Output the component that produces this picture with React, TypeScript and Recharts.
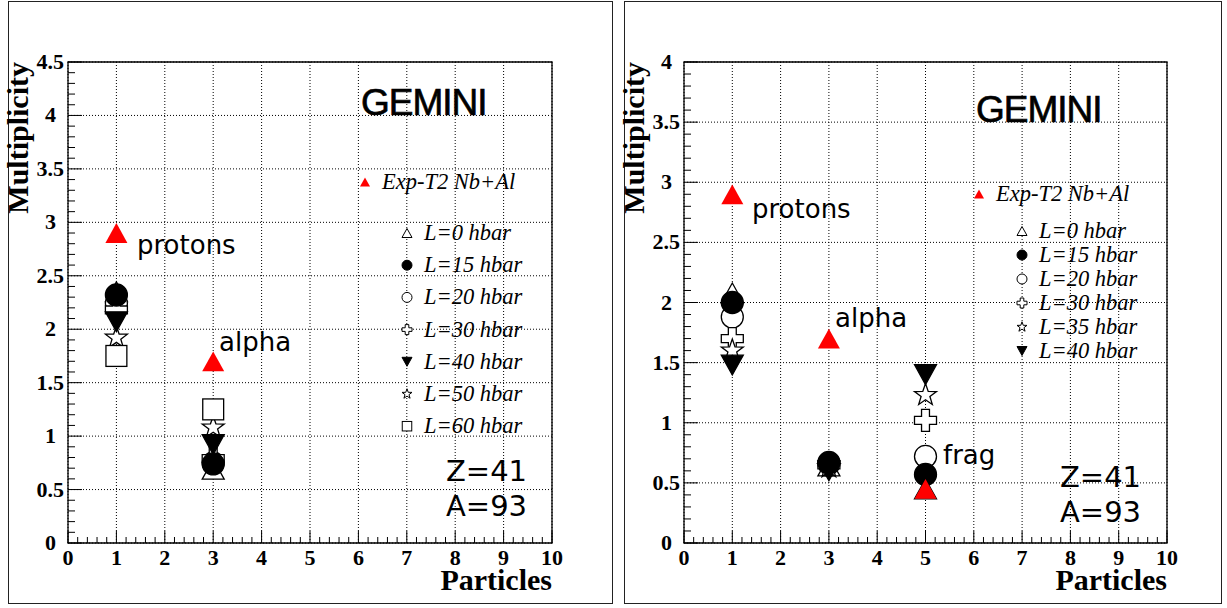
import { ScatterChart, Scatter, XAxis, YAxis, CartesianGrid, ReferenceArea } from 'recharts';

// ---- data ----
const particlesL = [1, 3];
const expL = [2.9, 1.7];
const l0L = [2.35, 0.69];
const l15L = [2.32, 0.74];
const l20L = [2.24, 0.75];
const l30L = [2.18, 0.79];
const l40L = [2.07, 0.92];
const l50L = [1.92, 1.08];
const l60L = [1.75, 1.25];

const particlesR = [1, 3, 5];
const expR = [2.9, 1.7, 0.45];
const l0R = [2.08, 0.64, 0.45];
const l15R = [2.0, 0.67, 0.57];
const l20R = [1.88, 0.66, 0.72];
const l30R = [1.7, 0.65, 1.02];
const l35R = [1.6, 0.63, 1.23];
const l40R = [1.48, 0.6, 1.4];

const xMajor = [0, 1, 2, 3, 4, 5, 6, 7, 8, 9, 10];
const xMinor = Array.from({ length: 51 }, (_, i) => i / 5);
const yMajorL = [0, 0.5, 1, 1.5, 2, 2.5, 3, 3.5, 4, 4.5];
const yMinorL = Array.from({ length: 46 }, (_, i) => i / 10);
const yMajorR = [0, 0.5, 1, 1.5, 2, 2.5, 3, 3.5, 4];
const yMinorR = Array.from({ length: 41 }, (_, i) => i / 10);

const SERIF = '"Liberation Serif", "Times New Roman", serif';
const SANS = '"DejaVu Sans", sans-serif';
const SANS2 = '"Liberation Sans", Arial, sans-serif';

type Kind = 'triUp' | 'dot' | 'circle' | 'cross' | 'triDown' | 'star' | 'square';
const OPEN: Kind[] = ['triUp', 'circle', 'cross', 'star', 'square'];

function Marker({ kind, cx, cy, s, color }: { kind: Kind; cx: number; cy: number; s: number; color?: string }) {
  const h = s / 2;
  const open = !color && OPEN.includes(kind);
  const fill = color ? color : open ? '#fff' : '#000';
  const stroke = color ? 'none' : '#000';
  const sw = s > 14 ? 1.3 : 1;
  const common = { fill, stroke, strokeWidth: sw };
  switch (kind) {
    case 'triUp':
      return <polygon {...common} points={`${cx - h},${cy + h * 0.9} ${cx + h},${cy + h * 0.9} ${cx},${cy - h * 0.9}`} />;
    case 'triDown':
      return <polygon {...common} points={`${cx - h},${cy - h * 0.9} ${cx + h},${cy - h * 0.9} ${cx},${cy + h * 0.9}`} />;
    case 'dot':
    case 'circle':
      return <circle {...common} cx={cx} cy={cy} r={h} />;
    case 'square':
      return <rect {...common} x={cx - h * 0.95} y={cy - h * 0.95} width={h * 1.9} height={h * 1.9} />;
    case 'cross': {
      const a = h * 0.36;
      const pts = [
        [-a, -h], [a, -h], [a, -a], [h, -a], [h, a], [a, a], [a, h], [-a, h], [-a, a], [-h, a], [-h, -a], [-a, -a],
      ].map(([dx, dy]) => `${cx + dx},${cy + dy}`).join(' ');
      return <polygon {...common} points={pts} />;
    }
    case 'star': {
      const pts: string[] = [];
      for (let i = 0; i < 10; i++) {
        const r = i % 2 === 0 ? h * 1.05 : h * 0.42;
        const ang = -Math.PI / 2 + (i * Math.PI) / 5;
        pts.push(`${cx + r * Math.cos(ang)},${cy + r * Math.sin(ang)}`);
      }
      return <polygon {...common} points={pts.join(' ')} />;
    }
  }
  return null;
}

interface Series {
  name: string;
  kind: Kind;
  values: number[];
}

const seriesL: Series[] = [
  { name: 'L=0 hbar', kind: 'triUp', values: l0L },
  { name: 'L=15 hbar', kind: 'dot', values: l15L },
  { name: 'L=20 hbar', kind: 'circle', values: l20L },
  { name: 'L=30 hbar', kind: 'cross', values: l30L },
  { name: 'L=40 hbar', kind: 'triDown', values: l40L },
  { name: 'L=50 hbar', kind: 'star', values: l50L },
  { name: 'L=60 hbar', kind: 'square', values: l60L },
];

const seriesR: Series[] = [
  { name: 'L=0 hbar', kind: 'triUp', values: l0R },
  { name: 'L=15 hbar', kind: 'dot', values: l15R },
  { name: 'L=20 hbar', kind: 'circle', values: l20R },
  { name: 'L=30 hbar', kind: 'cross', values: l30R },
  { name: 'L=35 hbar', kind: 'star', values: l35R },
  { name: 'L=40 hbar', kind: 'triDown', values: l40R },
];

// ticks point inwards, like ROOT; minor ticks have no label
function XTick(props: any) {
  const { x, y, payload } = props;
  const v = payload.value;
  const major = Math.abs(v - Math.round(v)) < 1e-6;
  return (
    <g>
      <line x1={x} x2={x} y1={y} y2={y - (major ? 12 : 6)} stroke="#000" strokeWidth={1} />
      {major && (
        <text x={x} y={y + 22} textAnchor="middle" fontFamily={SERIF} fontWeight="bold" fontSize={22} fill="#000">
          {Math.round(v)}
        </text>
      )}
    </g>
  );
}

function YTick(props: any) {
  const { x, y, payload } = props;
  const v = payload.value;
  const major = Math.abs(v * 2 - Math.round(v * 2)) < 1e-6;
  const label = String(Number(v.toFixed(1)));
  const dec = label.includes('.');
  return (
    <g>
      <line x1={x} x2={x + (major ? 14 : 7)} y1={y} y2={y} stroke="#000" strokeWidth={1} />
      {major && (
        <text x={x - (dec ? 4 : 12)} y={y + 7} textAnchor="end" fontFamily={SERIF} fontWeight="bold" fontSize={22} fill="#000">
          {label}
        </text>
      )}
    </g>
  );
}

interface PanelProps {
  left: number;
  width: number;
  marginRight: number;
  particles: number[];
  exp: number[];
  series: Series[];
  yMax: number;
  yMajor: number[];
  yMinor: number[];
}

function Panel({ left, width, marginRight, particles, exp, series, yMax, yMajor, yMinor }: PanelProps) {
  const toData = (vals: number[]) => particles.map((p, i) => ({ x: p, y: vals[i] }));
  // open (white-filled) markers first, filled ones over them, experiment on top
  const ordered = [...series.filter(s => OPEN.includes(s.kind)), ...series.filter(s => !OPEN.includes(s.kind))];
  return (
    <div style={{ position: 'absolute', left, top: 0 }}>
      <ScatterChart width={width} height={608} margin={{ top: 62, right: marginRight, left: 59, bottom: 64 }}>
        <CartesianGrid
          verticalValues={xMajor}
          horizontalValues={yMajor}
          stroke="#000"
          strokeDasharray="1 2"
          strokeWidth={1}
        />
        <XAxis
          type="number"
          dataKey="x"
          domain={[0, 10]}
          ticks={xMinor}
          interval={0}
          height={1}
          tickSize={0}
          tickMargin={0}
          tickLine={false}
          axisLine={false}
          tick={<XTick />}
        />
        <YAxis
          type="number"
          dataKey="y"
          domain={[0, yMax]}
          ticks={yMinor}
          interval={0}
          width={1}
          tickSize={0}
          tickMargin={0}
          tickLine={false}
          axisLine={false}
          tick={<YTick />}
        />
        <ReferenceArea x1={0} x2={10} y1={0} y2={yMax} fill="none" fillOpacity={0} stroke="#000" strokeWidth={1.3} />
        {ordered.map(s => (
          <Scatter
            key={s.name}
            name={s.name}
            data={toData(s.values)}
            isAnimationActive={false}
            shape={(p: any) => <Marker kind={s.kind} cx={p.cx} cy={p.cy} s={22} />}
          />
        ))}
        <Scatter
          name="Exp-T2 Nb+Al"
          data={toData(exp)}
          isAnimationActive={false}
          shape={(p: any) => <Marker kind="triUp" cx={p.cx} cy={p.cy} s={22} color="#ff0000" />}
        />
      </ScatterChart>
    </div>
  );
}

function Legend({ series, expX, expY, mx, tx, y0, step }: { series: Series[]; expX: number; expY: number; mx: number; tx: number; y0: number; step: number }) {
  return (
    <g>
      <Marker kind="triUp" cx={expX} cy={expY} s={10} color="#ff0000" />
      <text x={expX + 17} y={expY + 7} fontFamily={SERIF} fontStyle="italic" fontSize={22.5} fill="#000">
        Exp-T2 Nb+Al
      </text>
      {series.map((s, i) => (
        <g key={s.name}>
          <Marker kind={s.kind} cx={mx} cy={y0 + i * step} s={10} />
          <text x={tx} y={y0 + i * step + 7} fontFamily={SERIF} fontStyle="italic" fontSize={22.5} fill="#000">
            {s.name}
          </text>
        </g>
      ))}
    </g>
  );
}

export default function App() {
  const big = { fontFamily: SERIF, fontWeight: 'bold' as const, fill: '#000' };
  const ann = { fontFamily: SANS, fontSize: 26, fill: '#000' };
  const za = { fontFamily: SANS, fontSize: 29, fill: '#000' };
  const gem = { fontFamily: SANS2, fontSize: 37, letterSpacing: -1, fill: '#000', stroke: '#000', strokeWidth: 0.7 };
  return (
    <div style={{ position: 'absolute', left: 0, top: 0, width: 1227, height: 608, background: '#fff' }}>
      <Panel left={8} width={604} marginRight={60} particles={particlesL} exp={expL} series={seriesL} yMax={4.5} yMajor={yMajorL} yMinor={yMinorL} />
      <Panel left={624} width={598} marginRight={55} particles={particlesR} exp={expR} series={seriesR} yMax={4} yMajor={yMajorR} yMinor={yMinorR} />
      <svg width={1227} height={608} style={{ position: 'absolute', left: 0, top: 0, pointerEvents: 'none' }}>
        <rect x={8.5} y={1.5} width={604} height={602} fill="none" stroke="#222" strokeWidth={1} />
        <rect x={624.5} y={1.5} width={597} height={602} fill="none" stroke="#222" strokeWidth={1} />

        {/* left panel texts */}
        <text x={28} y={62} transform="rotate(-90 28 62)" textAnchor="end" fontSize={30} {...big}>Multiplicity</text>
        <text x={552} y={590} textAnchor="end" fontSize={30} {...big}>Particles</text>
        <text x={361} y={115} {...gem}>GEMINI</text>
        <text x={137} y={254} {...ann}>protons</text>
        <text x={219} y={351} {...ann}>alpha</text>
        <text x={446} y={481} {...za}>Z=41</text>
        <text x={446} y={516} {...za}>A=93</text>
        <Legend series={seriesL} expX={365} expY={182} mx={407} tx={424} y0={233} step={32.2} />

        {/* right panel texts */}
        <text x={644} y={62} transform="rotate(-90 644 62)" textAnchor="end" fontSize={30} {...big}>Multiplicity</text>
        <text x={1167} y={590} textAnchor="end" fontSize={30} {...big}>Particles</text>
        <text x={976} y={122} {...gem}>GEMINI</text>
        <text x={752} y={218} {...ann}>protons</text>
        <text x={835} y={327} {...ann}>alpha</text>
        <text x={943} y={464} {...ann}>frag</text>
        <text x={1060} y={487} {...za}>Z=41</text>
        <text x={1060} y={522} {...za}>A=93</text>
        <Legend series={seriesR} expX={979} expY={194} mx={1022} tx={1039} y0={231} step={24} />
      </svg>
    </div>
  );
}
